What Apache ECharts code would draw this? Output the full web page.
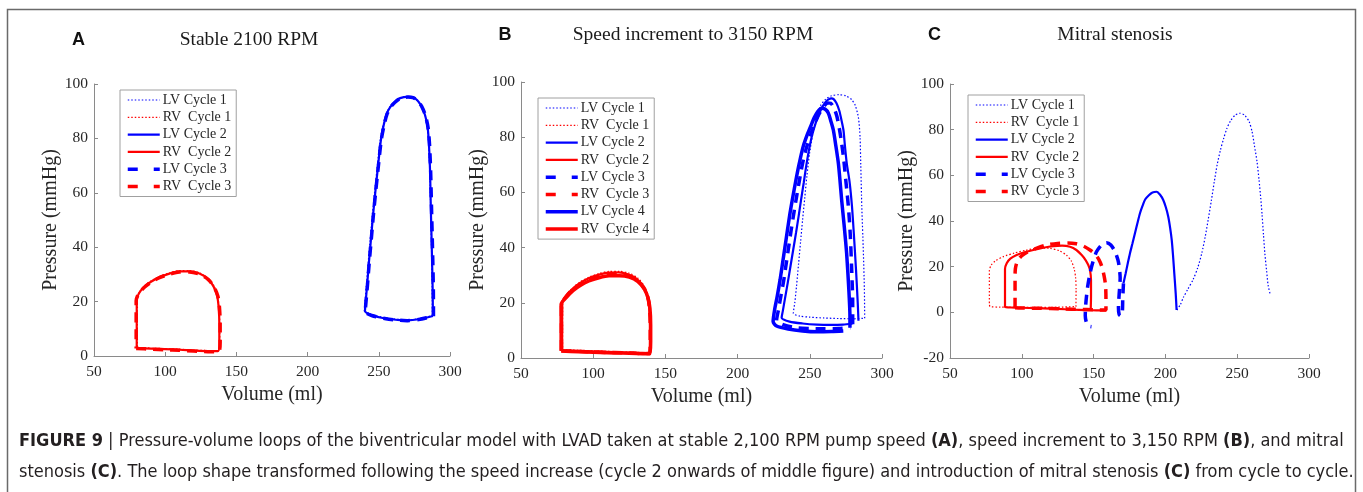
<!DOCTYPE html>
<html><head><meta charset="utf-8">
<script src="https://cdn.jsdelivr.net/npm/echarts@6/dist/echarts.min.js"></script>
<style>html,body{margin:0;padding:0;background:#fff}#c{width:1363px;height:492px}</style>
</head><body><div id="c"></div><script>
// ---------- tick labels ----------
const volumeTicks = [50, 100, 150, 200, 250, 300];
const pressureTicksAB = [0, 20, 40, 60, 80, 100];
const pressureTicksC = [-20, 0, 20, 40, 60, 80, 100];

// ---------- panel titles ----------
const panelLetters = ['A', 'B', 'C'];
const panelTitles = ['Stable 2100 RPM', 'Speed increment to 3150 RPM', 'Mitral stenosis'];

// ---------- Panel A : stable 2100 RPM  [volume ml, pressure mmHg] ----------
const A_LV1 = [[287.6,14.9],[287.5,25],[287,40],[286.4,55],[285.8,68],[285,78],[284,84],[282.3,88.5],[279.8,91.8],[276.8,94],[273.8,95.1],[270.5,95.4],[265,94.9],[261,93.4],[257.8,91.6],[255.2,89],[253.1,85],[251,79.5],[249,70],[247,60],[245.5,52],[244,43],[242.5,34],[241.3,26],[240.3,20],[239.8,16.6],[245,15.2],[255,14],[265,13.4],[270,13.3],[278,13.7],[287.6,14.9]];
const A_RV1 = [[80.5,3.2],[90,2.9],[100,2.7],[110,2.5],[120,2.2],[130,2],[137.5,2],[138.3,6],[138.3,12],[137.8,18],[136.8,22],[134.3,25.7],[130.2,28.5],[124,30.6],[117,31.4],[110,31.4],[103,30.6],[96,29.2],[90,27.6],[85,25.6],[81.8,23.3],[80.5,20.8],[80.5,12],[80.5,3.2]];
const A_LV2 = [[288,14.7],[287.8,25],[287.2,40],[286.5,55],[286,68],[285.2,78],[284.3,84],[282.5,88.5],[280,91.8],[277,94],[274,95.1],[270.5,95.3],[265,94.8],[261,93.3],[258,91.5],[255.5,89],[253.5,85],[251.5,79.5],[249.5,70],[247.5,60],[246,52],[244.5,43],[243,34],[241.8,26],[240.8,20],[240.3,16.5],[245,15],[255,13.8],[265,13.2],[270,13.1],[278,13.5],[288,14.7]];
const A_RV2 = [[80,3],[90,2.7],[100,2.5],[110,2.3],[120,2.0],[130,1.8],[137,1.8],[138,5],[138,12],[137.5,18],[136.5,22],[134,25.5],[130,28.3],[124,30.3],[117,31.1],[110,31.1],[103,30.3],[96,29],[90,27.3],[85,25.3],[81.5,23],[80,20.5],[80,12],[80,3]];
const A_LV3 = [[288.4,14.6],[288.3,25],[287.7,40],[287,55],[286.4,68],[285.6,78],[284.6,84],[282.8,88.4],[280.2,91.7],[277.2,93.9],[274,95],[270.5,95.2],[265.2,94.7],[261.2,93.2],[258.2,91.4],[255.7,88.8],[253.7,84.8],[251.7,79.3],[249.7,69.8],[247.7,59.8],[246.2,51.8],[244.7,42.8],[243.2,33.8],[242,25.8],[241,19.8],[240.5,16.3],[245,14.9],[255,13.7],[265,13.1],[270,13],[278,13.4],[288.4,14.6]];
const A_RV3 = [[79.6,2.8],[90,2.5],[100,2.3],[110,2.1],[120,1.8],[130,1.6],[137.5,1.6],[138.6,5],[138.6,12],[138.1,18],[137,22],[134.4,25.3],[130.3,28.1],[124,30.1],[117,30.9],[110,30.9],[103,30.1],[96,28.8],[90,27.1],[85,25.1],[81.2,22.8],[79.6,20.3],[79.6,12],[79.6,2.8]];

// ---------- Panel B : speed increment to 3150 RPM ----------
const B_LV1 = [[288,14.4],[287.8,25],[287,40],[286,55],[285.3,70],[284.8,80],[283.7,87],[281.5,91.5],[279,93.6],[275,95],[270,95.4],[265,95],[261,93.8],[257.5,91.5],[254.5,87],[252,81],[249.8,74],[248,66],[246.5,58],[245,50],[243.6,42],[242.2,34],[240.8,26],[239.6,20],[238.6,16.2],[243,15.2],[250,14.8],[260,14.5],[270,14.3],[280,14.2],[288,14.4]];
const B_RV1 = [[78.8,3],[90,2.8],[100,2.6],[110,2.4],[120,2.2],[130,2],[139.5,2],[139.8,6],[139.8,12],[139.3,18],[138.2,22.5],[135.5,26],[131,28.9],[125,30.7],[118,31.4],[111,31.4],[104,30.6],[97,29.3],[91,27.6],[86,25.5],[82,23.2],[79,20.5],[78.8,12],[78.8,3]];
const B_LV2 = [[283.7,13.5],[283.2,20],[282,32],[280.5,45],[279.2,55],[277.5,64],[275.6,70.5],[274.3,77],[273.3,82.6],[271.8,86.5],[270.5,89.5],[268.5,92.3],[266.5,93.8],[265,94.1],[263,93.7],[261,92.8],[258.5,90.8],[256.3,88.3],[254,85],[251.5,80.5],[249.3,75],[247.5,69.5],[245.8,63.5],[244,57.5],[242.3,51.5],[240.5,45.5],[238.6,39.5],[236.7,33.5],[234.8,27.5],[232.8,21.5],[231.3,17],[230.5,14.6],[236,13.2],[245,12.5],[255,12.1],[265,12],[273,12.1],[279.5,12.4]];
const B_RV2 = [[78.5,2.8],[90,2.6],[100,2.4],[110,2.2],[120,2],[130,1.9],[138.8,1.8],[139.3,6],[139.3,12],[138.8,18],[137.5,22.3],[135,25.6],[130.5,28.5],[124.5,30.2],[117.5,31],[110.5,30.9],[103.5,30.1],[96.5,28.8],[90.5,27],[85.5,25],[81.5,22.7],[78.5,20],[78.5,12],[78.5,2.8]];
const B_LV3 = [[279.7,12.2],[279.7,20],[279,32],[278,45],[276.7,55],[275,64],[273.5,72],[272,78],[270.5,83],[268.8,87.5],[266.8,90.5],[264.5,92.3],[262.5,92.4],[259.5,91],[256.5,88.5],[253.5,85],[250.3,80.5],[247.3,75.5],[244.8,70],[242.7,64],[240.7,58],[238.8,52],[237,46],[235.3,40],[233.6,34],[231.9,28],[230,22.5],[228.3,17.5],[227,13.6],[232,12],[240,11],[250,10.7],[260,10.6],[270,10.7],[278,11]];
const B_RV3 = [[78,2.6],[90,2.4],[100,2.2],[110,2],[120,1.9],[130,1.7],[139,1.6],[139.5,6],[139.5,12],[139,18],[137.8,22],[135.2,25.3],[130.7,28.1],[124.5,29.8],[117.5,30.4],[110.5,30.4],[103.5,29.6],[96.5,28.3],[90.5,26.6],[85.5,24.7],[81.2,22.3],[78,19.6],[78,12],[78,2.6]];
const B_LV4 = [[277.8,11],[277.8,15],[277,25],[275.5,38],[273.8,48],[272.1,57],[270.8,65],[269.8,70.5],[268,77],[266.3,82.6],[264.5,86],[262.8,88.8],[260.5,90.2],[258.2,90.5],[255.5,89.3],[253,87],[251.5,85.1],[248.3,81],[245.3,76.4],[242.7,70.5],[240.4,64.5],[238.3,58.5],[236.3,52.5],[234.5,46.3],[232.8,40.2],[231.1,34.2],[229.4,28.3],[227.5,22.5],[225.8,18],[224.6,13.2],[227,11.6],[235,10.5],[245,9.8],[255,9.5],[265,9.6],[273.2,9.8]];
const B_RV4 = [[77.8,2.5],[90,2.3],[100,2.1],[110,1.9],[120,1.8],[130,1.6],[139.3,1.5],[139.8,6],[139.8,12],[139.3,18],[138,21.7],[135.4,25],[131,27.7],[125,29.3],[118,29.8],[111,29.8],[104,29.1],[97,27.9],[91,26.3],[86,24.4],[81.5,22],[77.8,19.5],[77.8,12],[77.8,2.5]];

// ---------- Panel C : mitral stenosis ----------
const C_LV1 = [[208,1],[210.5,3.5],[212.5,6.5],[215.5,10],[219.4,14.5],[222.5,19.5],[225.3,25.8],[227.7,33],[229.9,41],[232,49],[234,57],[236,64.5],[238.3,71],[240.5,76],[242.8,80.5],[245.5,84],[248.5,86.3],[252,87.2],[255.2,86.3],[258.3,83.5],[260.4,79],[262,73],[263.8,66],[265.2,58],[266.4,50],[267.3,43],[268.3,34],[269.3,25.5],[270.5,18],[271.5,12],[272.8,8.3]];
const C_RV1 = [[137.7,2.5],[137.8,10],[137.5,15],[136.5,19],[134.5,22.5],[131.2,25],[126,27],[119.6,28],[112,28.2],[103.4,27.3],[95,26],[87.1,24.4],[81.5,22.5],[78.5,20.5],[77.4,18],[77.4,10],[77.4,3.5],[78,2.5],[85,2.3],[100,2.2],[120,2.2],[137.7,2.5]];
const C_LV2 = [[207.8,1],[207.2,8],[206.2,17],[205.3,25],[204.4,31.7],[203.3,37],[202,41.9],[200.3,46],[198.5,49.2],[196.3,51.5],[193.9,52.8],[191,52.5],[188.5,51.3],[186,49.5],[184,46.5],[182.3,43.4],[180.5,39],[178.8,34.6],[177,30],[175.3,25.8],[173.8,21.5],[172.3,17],[170.8,12.7]];
const C_RV2 = [[148,1],[148.2,7],[148.2,14],[147.5,18.5],[146.3,20.7],[144.3,23],[141.7,25.1],[138,27.3],[133.6,28.7],[128,29.2],[122,29],[115,28.3],[108,27.3],[102,26.3],[96.4,25.1],[92,23.5],[89.5,21.5],[88.3,19],[88.3,12],[88.3,2.2],[95,2.1],[105,1.9],[115,1.7],[125,1.5],[135,1.2],[145,1],[152,0.9],[159,0.8]];
const C_LV3 = [[170.8,12.7],[170.3,6],[170,0],[169,-1.6],[167.8,-1],[167.3,2],[167.8,8],[168.5,15],[167.3,22],[165,26.5],[162,29.5],[159,30.5],[155.5,29.5],[152,26.5],[149.5,22],[147.5,17],[145.8,11],[144.6,4],[144.2,-1.5],[145,-4.5],[146.5,-6],[148.5,-6.3]];
const C_RV3 = [[95.3,2],[95.3,8],[95.3,14],[95.5,19],[97,22.5],[100,24.8],[104,26.5],[110,28],[117.3,29.5],[125,30.2],[132,30.4],[138,30],[143,29],[147.5,27.3],[151,25.5],[153.8,23],[155.8,20],[157.3,16],[158.3,12],[158.6,6],[158.6,1],[150,1.1],[140,1.3],[130,1.5],[120,1.7],[110,1.8],[100,1.9],[95.3,2]];

// ---------- caption ----------
const captionLine1 = '{b|FIGURE 9} | Pressure-volume loops of the biventricular model with LVAD taken at stable 2,100 RPM pump speed {b|(A)}, speed increment to 3,150 RPM {b|(B)}, and mitral';
const captionLine2 = 'stenosis {b|(C)}. The loop shape transformed following the speed increase (cycle 2 onwards of middle figure) and introduction of mitral stenosis {b|(C)} from cycle to cycle.';

// ---------- styling ----------
const BLUE = '#0000ff', RED = '#ff0000';
const SERIF = '"Liberation Serif", "Times New Roman", serif';
const SANS = '"Liberation Sans", Arial, sans-serif';
const NARROW = '"Liberation Sans Narrow", "Arial Narrow", "DejaVu Sans Condensed", sans-serif';
const styles = {
  'LV Cycle 1': {color: BLUE, width: 1.2, type: [1.5, 2]},
  'RV  Cycle 1': {color: RED, width: 1.2, type: [1.5, 2]},
  'LV Cycle 2': {color: BLUE, width: 2.2, type: 'solid'},
  'RV  Cycle 2': {color: RED, width: 2.2, type: 'solid'},
  'LV Cycle 3': {color: BLUE, width: 3.5, type: [10, 7]},
  'RV  Cycle 3': {color: RED, width: 3.5, type: [10, 7]},
  'LV Cycle 4': {color: BLUE, width: 3.5, type: 'solid'},
  'RV  Cycle 4': {color: RED, width: 3.5, type: 'solid'}
};
const legendDash = {'LV Cycle 3': [10, 16], 'RV  Cycle 3': [10, 16]};

const grids = [
  {left: 94, top: 84, width: 356, height: 272},
  {left: 521, top: 82, width: 361, height: 276},
  {left: 950, top: 84, width: 359, height: 274}
];
const yTicks = [pressureTicksAB, pressureTicksAB, pressureTicksC];
const nameGapsY = [28, 30, 32];
const legendPos = [{left: 120, top: 90}, {left: 538, top: 98}, {left: 968, top: 95}];
const panelSeries = [
  [['LV Cycle 1', A_LV1], ['RV  Cycle 1', A_RV1], ['LV Cycle 2', A_LV2], ['RV  Cycle 2', A_RV2], ['LV Cycle 3', A_LV3], ['RV  Cycle 3', A_RV3]],
  [['LV Cycle 1', B_LV1], ['RV  Cycle 1', B_RV1], ['LV Cycle 2', B_LV2], ['RV  Cycle 2', B_RV2], ['LV Cycle 3', B_LV3], ['RV  Cycle 3', B_RV3], ['LV Cycle 4', B_LV4], ['RV  Cycle 4', B_RV4]],
  [['LV Cycle 1', C_LV1], ['RV  Cycle 1', C_RV1], ['LV Cycle 2', C_LV2], ['RV  Cycle 2', C_RV2], ['LV Cycle 3', C_LV3], ['RV  Cycle 3', C_RV3]]
];

const AXIS_COLOR = '#8a8a8a', LABEL_COLOR = '#262626';
const xAxes = grids.map((g, i) => ({
  type: 'value', gridIndex: i,
  min: volumeTicks[0], max: volumeTicks[volumeTicks.length - 1], interval: volumeTicks[1] - volumeTicks[0],
  axisLine: {show: true, onZero: false, lineStyle: {color: AXIS_COLOR, width: 1}},
  axisTick: {show: true, inside: true, length: 4, lineStyle: {color: AXIS_COLOR}},
  axisLabel: {fontFamily: SERIF, fontSize: 15.5, color: LABEL_COLOR, margin: 8},
  splitLine: {show: false},
  name: 'Volume (ml)', nameLocation: 'middle', nameGap: 26,
  nameTextStyle: {fontFamily: SERIF, fontSize: 20, color: LABEL_COLOR}
}));
const yAxes = grids.map((g, i) => ({
  type: 'value', gridIndex: i,
  min: yTicks[i][0], max: yTicks[i][yTicks[i].length - 1], interval: yTicks[i][1] - yTicks[i][0],
  axisLine: {show: true, onZero: false, lineStyle: {color: AXIS_COLOR, width: 1}},
  axisTick: {show: true, inside: true, length: 4, lineStyle: {color: AXIS_COLOR}},
  axisLabel: {fontFamily: SERIF, fontSize: 15.5, color: LABEL_COLOR, margin: 6},
  splitLine: {show: false},
  name: 'Pressure (mmHg)', nameLocation: 'middle', nameGap: nameGapsY[i],
  nameTextStyle: {fontFamily: SERIF, fontSize: 20, color: LABEL_COLOR}
}));

const series = [];
panelSeries.forEach((list, gi) => {
  list.forEach(([name, data], k) => {
    const s = styles[name];
    series.push({
      type: 'line', name: name, data: data, xAxisIndex: gi, yAxisIndex: gi,
      symbol: 'none', showSymbol: false, smooth: 0.25, animation: false,
      color: s.color, z: 2 + k,
      lineStyle: {color: s.color, width: s.width, type: s.type, cap: 'butt'},
      emphasis: {disabled: true}
    });
  });
});

const legends = panelSeries.map((list, gi) => ({
  orient: 'vertical', left: legendPos[gi].left, top: legendPos[gi].top,
  padding: [3, 5, 3, 6], itemGap: 3.3, itemWidth: 32, itemHeight: 14,
  borderColor: '#a0a0a0', borderWidth: 1, backgroundColor: '#ffffff',
  selectedMode: false,
  itemStyle: {opacity: 0, borderWidth: 0},
  textStyle: {fontFamily: SERIF, fontSize: 14, color: LABEL_COLOR, padding: [0, 0, 0, -2]},
  data: list.map(([name]) => {
    const s = styles[name];
    return {
      name: name,
      itemStyle: {opacity: 0, borderWidth: 0},
      lineStyle: {color: s.color, width: s.width, type: legendDash[name] || s.type, opacity: 1}
    };
  })
}));

const letterX = [78.5, 505, 934.5], titleX = [249, 693, 1115], titleY = [40, 35, 35];
const graphic = [
  {type: 'rect', shape: {x: 7.5, y: 9.5, width: 1348, height: 495}, style: {fill: null, stroke: '#6a6a6a', lineWidth: 1.5}, silent: true}
];
panelLetters.forEach((t, i) => {
  graphic.push({type: 'text', x: letterX[i], y: titleY[i], style: {text: t, font: 'bold 18px ' + SANS, fill: '#111', align: 'center', verticalAlign: 'middle'}});
  graphic.push({type: 'text', x: titleX[i], y: titleY[i], style: {text: panelTitles[i], font: '19.5px ' + SERIF, fill: '#1a1a1a', align: 'center', verticalAlign: 'middle'}});
});
const capRich = {b: {fontFamily: NARROW, fontWeight: 'bold', fontSize: 18, fill: '#231f20'}};
graphic.push({type: 'text', x: 19, y: 441, style: {text: captionLine1, fontFamily: NARROW, fontSize: 18, fill: '#231f20', verticalAlign: 'middle', rich: capRich}});
graphic.push({type: 'text', x: 19, y: 472, style: {text: captionLine2, fontFamily: NARROW, fontSize: 18, fill: '#231f20', verticalAlign: 'middle', rich: capRich}});

const chart = echarts.init(document.getElementById('c'), null, {renderer: 'canvas'});
chart.setOption({
  backgroundColor: '#ffffff',
  animation: false,
  grid: grids.map(g => Object.assign({containLabel: false, outerBoundsMode: 'none'}, g)),
  xAxis: xAxes, yAxis: yAxes,
  legend: legends,
  series: series,
  graphic: graphic
});
</script></body></html>
